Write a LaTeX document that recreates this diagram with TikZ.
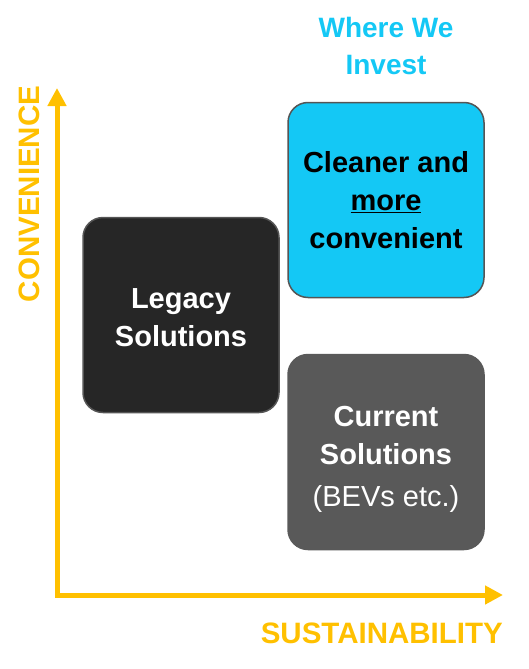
\documentclass[tikz,border=0pt]{standalone}
\usepackage{fontspec}
\setmainfont{Liberation Sans}
\usepackage{xcolor}
\usetikzlibrary{arrows.meta}

\definecolor{axisyellow}{HTML}{FFC000}
\definecolor{investcyan}{HTML}{14C8F5}
\definecolor{legacydark}{HTML}{262626}
\definecolor{currentgray}{HTML}{595959}
\definecolor{boxedge}{HTML}{555555}

\begin{document}
\begin{tikzpicture}[x=1pt, y=-1pt,
  quadrant/.style={rounded corners=20pt, minimum width=196pt, minimum height=195pt,
    line width=1.5pt},
  boxtext/.style={align=center, font=\fontsize{29}{38}\selectfont\bfseries},
  axislabel/.style={text=axisyellow, font=\fontsize{29.5}{34}\selectfont\bfseries},
  axis/.style={draw=axisyellow, line width=5pt, line join=miter,
    {Triangle[length=18pt,width=18pt]}-{Triangle[length=18pt,width=18pt]}}]
 \useasboundingbox (0,0) rectangle (528,669);
 %Nodes
	\node (header) at (386,46) [text=investcyan, align=center, font=\fontsize{28}{37}\selectfont\bfseries] {Where We\\Invest};
	\node[quadrant, draw=boxedge, fill=investcyan] (invest) at (386,200) {};
	\node[quadrant, draw=boxedge, fill=legacydark] (legacy) at (181,315) {};
	\node[quadrant, draw=currentgray, fill=currentgray] (current) at (386,452) {};
	\node[boxtext, text=black] (invest-text) at (invest) {Cleaner and\\\underline{more}\\convenient};
	\node[boxtext, text=white, yshift=-3pt] (legacy-text) at (legacy) {Legacy\\Solutions};
	\node[boxtext, text=white, yshift=-7pt] (current-text) at (current) {Current\\Solutions\\[4pt]{\mdseries(BEVs etc.)}};
	\coordinate (origin) at (57,595);
	\coordinate (ytip) at (57,88);
	\coordinate (xtip) at (503,595);
	\node[axislabel, rotate=90] (convenience) at (29,194) {CONVENIENCE};
	\node[axislabel, anchor=east, inner sep=0pt] (sustainability) at (503,633) {SUSTAINABILITY};
	% Axes
	\draw[axis] (ytip) -- (origin) -- (xtip);
\end{tikzpicture}
\end{document}
